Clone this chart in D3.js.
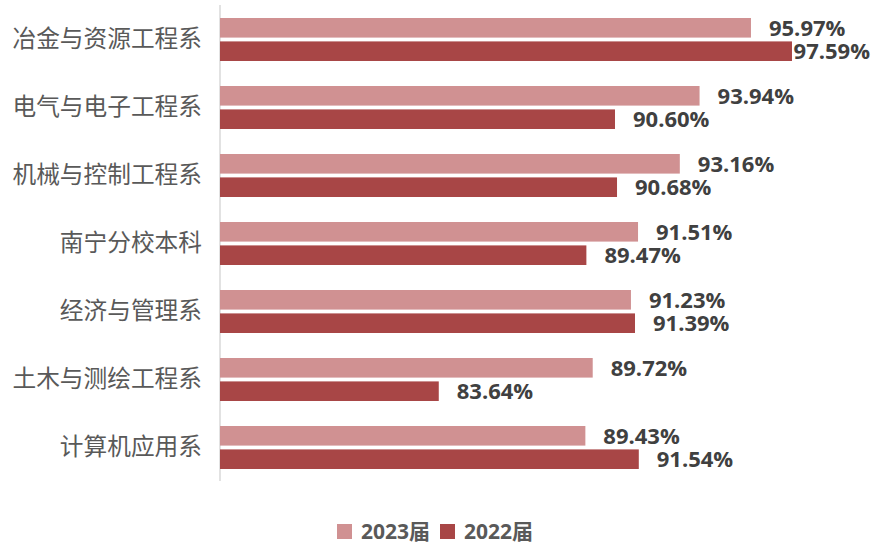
<!doctype html>
<html>
<head>
  <meta charset="utf8"/>
  <style>
    body { margin: 0; background: #fff; }
    .cat { font: 23.7px "Noto Sans CJK SC", sans-serif; fill: #595959; }
    .val { font: bold 22px "Open Sans", "Noto Sans CJK SC", sans-serif; fill: #404040; }
    .leg { font: bold 21px "Open Sans", "Noto Sans CJK SC", sans-serif; fill: #595959; }
  </style>
</head>
<body>
  <svg width="873" height="544"></svg>
  <script src="https://d3js.org/d3.v7.min.js"></script>
  <script>
    var categories = ['冶金与资源工程系', '电气与电子工程系', '机械与控制工程系', '南宁分校本科',
                      '经济与管理系', '土木与测绘工程系', '计算机应用系'];
    var values2023 = [95.97, 93.94, 93.16, 91.51, 91.23, 89.72, 89.43];
    var values2022 = [97.59, 90.60, 90.68, 89.47, 91.39, 83.64, 91.54];
    var seriesNames = ['2023届', '2022届'];
    var colors = ['#d09192', '#a84646'];

    var svg = d3.select('svg'),
        W = +svg.attr('width'),
        left = 220;

    var x = d3.scaleLinear().domain([75, 100]).range([left, 853]);
    var y = d3.scaleBand().domain(categories).range([5.5, 481.5]);
    var sub = d3.scaleBand().domain(seriesNames)
                .range([12.5, y.bandwidth() - 12.5]).paddingInner(7 / 43);

    var series = [values2023, values2022];

    // axis line
    svg.append('line')
      .attr('x1', left).attr('x2', left)
      .attr('y1', 5).attr('y2', 481)
      .attr('stroke', '#d9d9d9').attr('stroke-width', 1.5);

    // category labels
    svg.selectAll('.cat')
      .data(categories)
      .enter().append('text')
        .attr('class', 'cat')
        .attr('x', 202)
        .attr('y', function(d) { return y(d) + y.bandwidth() / 2 - 1; })
        .attr('dy', '0.35em')
        .attr('text-anchor', 'end')
        .text(function(d) { return d; });

    series.forEach(function(vals, si) {
      var g = svg.append('g');
      g.selectAll('rect')
        .data(vals)
        .enter().append('rect')
          .attr('x', left)
          .attr('y', function(d, i) { return y(categories[i]) + sub(seriesNames[si]); })
          .attr('width', function(d) { return x(d) - left; })
          .attr('height', sub.bandwidth())
          .attr('fill', colors[si]);

      g.selectAll('text')
        .data(vals)
        .enter().append('text')
          .attr('class', 'val')
          .attr('x', function(d) { return x(d) + 18; })
          .attr('y', function(d, i) {
            return y(categories[i]) + sub(seriesNames[si]) + sub.bandwidth() / 2;
          })
          .attr('dy', '0.36em')
          .text(function(d) { return d.toFixed(2) + '%'; })
          .each(function() {
            // keep labels inside the chart like Excel does
            var t = d3.select(this),
                w = this.getComputedTextLength(),
                x0 = +t.attr('x');
            if (x0 + w > W - 3) t.attr('x', W - 3 - w);
          });
    });

    // legend
    var legX = [337, 440];
    seriesNames.forEach(function(name, i) {
      svg.append('rect')
        .attr('x', legX[i]).attr('y', 524)
        .attr('width', 15).attr('height', 15)
        .attr('fill', colors[i]);
      svg.append('text')
        .attr('class', 'leg')
        .attr('x', legX[i] + 24).attr('y', 531.5)
        .attr('dy', '0.36em')
        .text(name);
    });
  </script>
</body>
</html>
